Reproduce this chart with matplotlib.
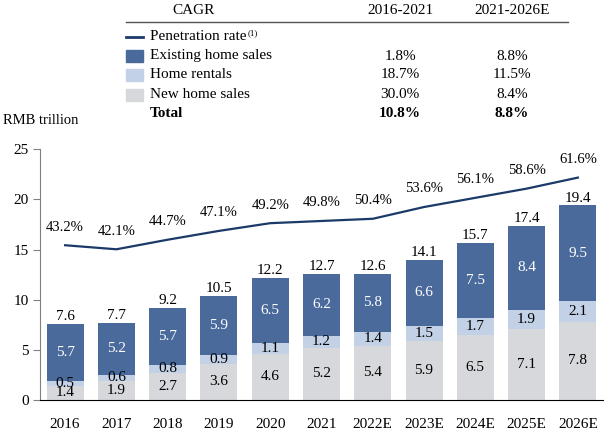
import matplotlib
matplotlib.use("Agg")
import matplotlib.pyplot as plt
import numpy as np

plt.rcParams['font.family'] = ['Liberation Serif', 'DejaVu Serif']

years = ['2016', '2017', '2018', '2019', '2020', '2021',
         '2022E', '2023E', '2024E', '2025E', '2026E']
new_home = [1.4, 1.9, 2.7, 3.6, 4.6, 5.2, 5.4, 5.9, 6.5, 7.1, 7.8]
rentals = [0.5, 0.6, 0.8, 0.9, 1.1, 1.2, 1.4, 1.5, 1.7, 1.9, 2.1]
existing = [5.7, 5.2, 5.7, 5.9, 6.5, 6.2, 5.8, 6.6, 7.5, 8.4, 9.5]
totals = [7.6, 7.7, 9.2, 10.5, 12.2, 12.7, 12.6, 14.1, 15.7, 17.4, 19.4]
penetration = [43.2, 42.1, 44.7, 47.1, 49.2, 49.8, 50.4, 53.6, 56.1, 58.6, 61.6]

cagr_rows = ['Existing home sales', 'Home rentals', 'New home sales', 'Total']
cagr_1621 = ['1.8%', '18.7%', '30.0%', '10.8%']
cagr_2126 = ['8.8%', '11.5%', '8.4%', '8.8%']

c_existing = '#4a6a9b'
c_rentals = '#c3d1e6'
c_new = '#d7d8dc'
c_line = '#1b3a6a'

W, H = 604, 432
fig = plt.figure(figsize=(W / 100, H / 100), dpi=100)
ax = fig.add_axes([40 / W, 1 - 400 / H, 563 / W, (400 - 149.3) / H])

x = np.arange(len(years))
bw = 0.72
b1 = np.array(new_home)
b2 = b1 + np.array(rentals)
ax.bar(x, new_home, bw, color=c_new)
ax.bar(x, rentals, bw, bottom=b1, color=c_rentals)
ax.bar(x, existing, bw, bottom=b2, color=c_existing)

fs = 11
for i in range(len(years)):
    ax.text(x[i], new_home[i] / 2, f'{new_home[i]:.1f}', ha='center', va='center', fontsize=fs)
    ax.text(x[i], b1[i] + rentals[i] / 2, f'{rentals[i]:.1f}', ha='center', va='center', fontsize=fs)
    ax.text(x[i], b2[i] + existing[i] / 2, f'{existing[i]:.1f}', ha='center', va='center',
            fontsize=fs, color='white')
    ax.annotate(f'{totals[i]:.1f}', (x[i], b2[i] + existing[i]), xytext=(0, 0.5),
                textcoords='offset points', ha='center', va='bottom', fontsize=fs)

ax.set_xlim(-0.49, 10.49)
ax.set_ylim(0, 25)
ax.set_yticks([0, 5, 10, 15, 20, 25])
ax.set_xticks(x)
ax.set_xticklabels(years)
ax.tick_params(axis='x', length=0, pad=13, labelsize=fs)
ax.tick_params(axis='y', length=5, color='#808080', labelsize=fs, pad=3)
ax.spines['top'].set_visible(False)
ax.spines['right'].set_visible(False)
ax.spines['left'].set_color('#808080')
ax.spines['bottom'].set_color('black')

# penetration rate on a hidden secondary scale
ax2 = ax.twinx()
ax2.set_ylim(1.1, 69.3)
ax2.plot(x, penetration, color=c_line, lw=1.6)
for i in range(len(years)):
    ax2.annotate(f'{penetration[i]:.1f}%', (x[i], penetration[i]), xytext=(0, 13),
                 textcoords='offset points', ha='center', va='center', fontsize=10.5)
ax2.axis('off')

fig.text(3 / W, 1 - 121 / H, 'RMB trillion', fontsize=10.5, va='center', ha='left')


# CAGR table
def fy(py):
    return 1 - py / H


fig.text(194 / W, fy(10), 'CAGR', fontsize=fs, ha='center', va='center')
fig.text(400 / W, fy(10), '2016-2021', fontsize=fs, ha='center', va='center')
fig.text(512 / W, fy(10), '2021-2026E', fontsize=fs, ha='center', va='center')
fig.add_artist(plt.Line2D([126 / W, 568 / W], [fy(21.5), fy(21.5)], color='#555555', lw=1))

fig.add_artist(plt.Line2D([126 / W, 143 / W], [fy(36.7), fy(36.7)], color=c_line, lw=2))
t = fig.text(150 / W, fy(36.7), 'Penetration rate', fontsize=fs, ha='left', va='center')
ax.annotate('(1)', xy=(1, 0.75), xycoords=t, xytext=(1, 0), textcoords='offset points',
            fontsize=6.5, ha='left', va='center', annotation_clip=False)

row_y = [56, 75, 94.5, 113.5]
patch_cols = [c_existing, c_rentals, c_new, None]
for j in range(len(cagr_rows)):
    bold = 'bold' if cagr_rows[j] == 'Total' else 'normal'
    if patch_cols[j] is not None:
        fig.add_artist(plt.Rectangle((126 / W, fy(row_y[j] + 6)), 17 / W, 12 / H,
                                     color=patch_cols[j], transform=fig.transFigure))
    fig.text(150 / W, fy(row_y[j]), cagr_rows[j], fontsize=fs, ha='left', va='center', weight=bold)
    fig.text(400 / W, fy(row_y[j]), cagr_1621[j], fontsize=fs, ha='center', va='center', weight=bold)
    fig.text(512 / W, fy(row_y[j]), cagr_2126[j], fontsize=fs, ha='center', va='center', weight=bold)

fig.savefig('out.png', dpi=100)
